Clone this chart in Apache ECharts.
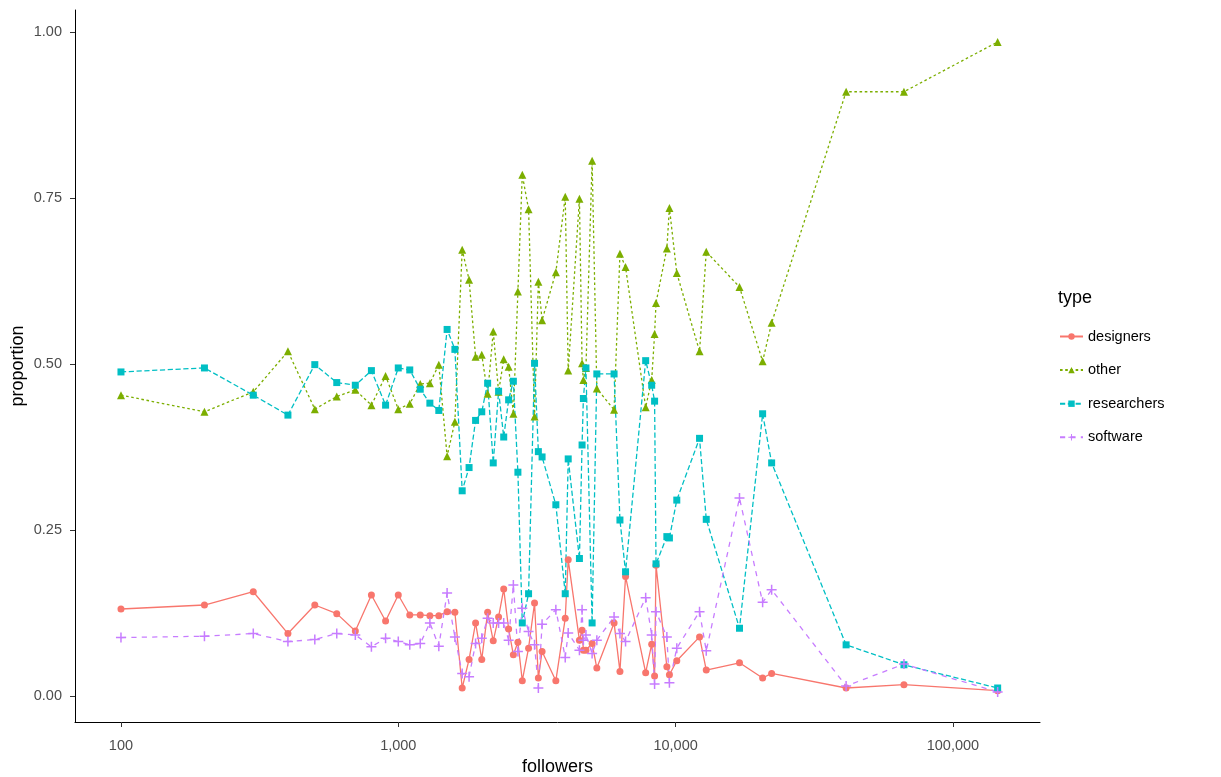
<!DOCTYPE html>
<html>
<head>
<meta charset="utf-8">
<script src="https://cdn.jsdelivr.net/npm/echarts@6/dist/echarts.min.js"></script>
<style>
html,body{margin:0;padding:0;background:#fff;}
#chart{width:1221px;height:777px;}
</style>
</head>
<body>
<div id="chart"></div>
<script>
// follower counts (shared by every type)
const followers = [100,200,300,400,500,600,700,800,900,1000,1100,1200,1300,1400,1500,1600,1700,1800,1900,2000,2100,2200,2300,2400,2500,2600,2700,2800,2950,3100,3200,3300,3700,4000,4100,4500,4600,4650,4750,5000,5200,6000,6300,6600,7800,8200,8400,8500,9300,9500,10100,12200,12900,17000,20600,22200,41200,66600,145000];

const designers = [0.131,0.137,0.157,0.094,0.137,0.124,0.098,0.152,0.113,0.152,0.122,0.122,0.121,0.121,0.127,0.126,0.012,0.055,0.110,0.055,0.126,0.083,0.119,0.161,0.101,0.062,0.081,0.023,0.072,0.140,0.027,0.067,0.023,0.117,0.205,0.084,0.099,0.069,0.069,0.079,0.042,0.110,0.037,0.180,0.035,0.078,0.030,0.197,0.044,0.032,0.053,0.089,0.039,0.050,0.027,0.034,0.012,0.017,0.008];

const other = [0.453,0.428,0.458,0.519,0.432,0.451,0.461,0.438,0.482,0.432,0.440,0.470,0.471,0.499,0.361,0.413,0.672,0.627,0.511,0.514,0.455,0.549,0.458,0.507,0.496,0.425,0.609,0.785,0.733,0.421,0.624,0.566,0.638,0.752,0.490,0.749,0.501,0.476,0.494,0.806,0.463,0.431,0.666,0.646,0.435,0.476,0.545,0.592,0.674,0.735,0.637,0.519,0.669,0.616,0.504,0.562,0.910,0.910,0.985];

const researchers = [0.488,0.494,0.453,0.423,0.499,0.472,0.468,0.490,0.438,0.494,0.491,0.462,0.441,0.430,0.552,0.522,0.309,0.344,0.415,0.428,0.471,0.351,0.459,0.390,0.446,0.474,0.337,0.110,0.154,0.501,0.368,0.360,0.288,0.154,0.357,0.207,0.378,0.448,0.494,0.110,0.485,0.485,0.265,0.187,0.505,0.468,0.444,0.199,0.240,0.238,0.295,0.388,0.266,0.102,0.425,0.351,0.077,0.047,0.012];

const software = [0.088,0.090,0.094,0.082,0.085,0.094,0.092,0.074,0.087,0.082,0.077,0.079,0.110,0.075,0.155,0.089,0.034,0.029,0.079,0.087,0.117,0.110,0.110,0.110,0.084,0.167,0.067,0.132,0.097,0.077,0.012,0.108,0.130,0.058,0.095,0.069,0.130,0.084,0.092,0.064,0.084,0.119,0.094,0.082,0.148,0.092,0.018,0.127,0.089,0.020,0.072,0.127,0.068,0.298,0.141,0.160,0.015,0.048,0.006];

const typeNames = ['designers','other','researchers','software'];
const xTicks = [100,1000,10000,100000];
const yTicks = [0,0.25,0.5,0.75,1];

const colors = {designers:'#F8766D', other:'#7CAE00', researchers:'#00BFC4', software:'#C77CFF'};
const plusPath = 'path://M-0.75,-5 L0.75,-5 L0.75,-0.75 L5,-0.75 L5,0.75 L0.75,0.75 L0.75,5 L-0.75,5 L-0.75,0.75 L-5,0.75 L-5,-0.75 L-0.75,-0.75 Z';

function pairs(vals){ return followers.map((f,i)=>[f, vals[i]]); }

const seriesDefs = [
  {name:'designers', vals:designers, symbol:'circle', size:7, dash:'solid'},
  {name:'other', vals:other, symbol:'triangle', size:8, dash:[2.6,2.6]},
  {name:'researchers', vals:researchers, symbol:'rect', size:7, dash:[5.2,2.6]},
  {name:'software', vals:software, symbol:plusPath, size:10, dash:[5.2,5.2]}
];

const chart = echarts.init(document.getElementById('chart'), null, {renderer:'canvas'});
const font = 'Liberation Sans, Arial, sans-serif';

chart.setOption({
  animation:false,
  backgroundColor:'#ffffff',
  textStyle:{fontFamily:font},
  title:{text:'type', left:1058, top:289, padding:0, textStyle:{fontSize:18, fontWeight:'normal', color:'#000', fontFamily:font}},
  legend:{
    orient:'vertical', left:1059, top:329, padding:0,
    itemWidth:23, itemHeight:8, itemGap:18.6,
    data:typeNames,
    textStyle:{fontSize:14.5, color:'#000', fontFamily:font}
  },
  grid:{left:75, right:181, top:10, bottom:55, containLabel:false, outerBoundsMode:'none'},
  xAxis:{
    type:'log', logBase:10, min:68.27, max:206100,
    name:'followers', nameLocation:'middle', nameGap:36, nameMoveOverlap:false,
    nameTextStyle:{fontSize:18, color:'#000', fontFamily:font},
    axisLine:{show:true, onZero:false, lineStyle:{color:'#000', width:1}},
    axisTick:{show:true, length:5, customValues:xTicks, lineStyle:{color:'#333', width:1}},
    axisLabel:{customValues:xTicks, fontSize:14.5, color:'#4D4D4D', margin:16,
      formatter:v=>Number(v).toLocaleString('en-US')},
    splitLine:{show:false}, minorTick:{show:false}
  },
  yAxis:{
    type:'value', min:-0.0392, max:1.0331,
    name:'proportion', nameLocation:'middle', nameGap:48, nameRotate:90, nameMoveOverlap:false,
    nameTextStyle:{fontSize:18, color:'#000', fontFamily:font},
    axisLine:{show:true, onZero:false, lineStyle:{color:'#000', width:1}},
    axisTick:{show:true, length:5, customValues:yTicks, lineStyle:{color:'#333', width:1}},
    axisLabel:{customValues:yTicks, fontSize:14.5, color:'#4D4D4D', margin:13,
      formatter:v=>Number(v).toFixed(2)},
    splitLine:{show:false}
  },
  series: seriesDefs.map(d=>({
    name:d.name, type:'line', data:pairs(d.vals),
    symbol:d.symbol, symbolSize:d.size, showSymbol:true,
    lineStyle:{color:colors[d.name], width:1.3, type:d.dash},
    itemStyle:{color:colors[d.name]},
    emphasis:{disabled:true}
  }))
});
</script>
</body>
</html>
